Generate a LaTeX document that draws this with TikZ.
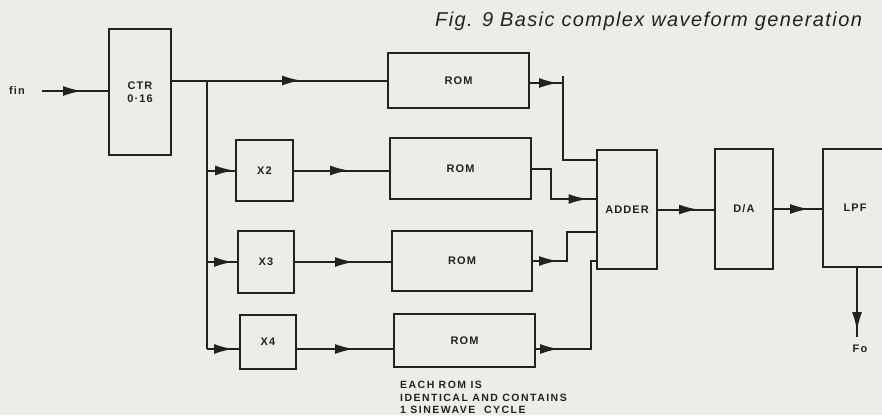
\documentclass[tikz,border=0pt]{standalone}
\usepackage{fontspec}
\setmainfont{Liberation Sans}
\newfontfamily\lblfont[LetterSpace=10]{Liberation Sans}
\newfontfamily\notefont[LetterSpace=14]{Liberation Sans}
\newfontfamily\titlefont[LetterSpace=7]{Liberation Sans}
\usetikzlibrary{arrows.meta,decorations.markings}
\definecolor{paper}{RGB}{236,236,232}
\definecolor{ink}{RGB}{34,34,34}
\begin{document}
\begin{tikzpicture}[x=1pt,y=-1pt,
  box/.style={draw=ink, line width=2pt, inner sep=0pt, text=ink, align=center,
    font=\lblfont\bfseries\fontsize{11}{13.5}\selectfont},
  wire/.style={draw=ink, line width=2pt},
  tipat/.style={postaction={decorate,decoration={markings,
    mark=at position #1 with {\arrow{Latex[length=19pt,width=10pt]}}}}},
  lbl/.style={text=ink, inner sep=0pt, font=\lblfont\bfseries\fontsize{11}{13}\selectfont}
]
\useasboundingbox (0,0) rectangle (882,415);
\fill[paper] (0,0) rectangle (882,415);
\clip (0,0) rectangle (882,415);

% title
\node[anchor=base west, inner sep=0pt, text=ink,
  font=\titlefont\itshape\fontsize{20}{22}\selectfont] (title) at (435,26)
  {Fig. 9 Basic complex waveform generation};

% boxes
\node[box, minimum width=62pt, minimum height=126pt] (ctr) at (140,92) {CTR\\0·16};
\node[box, minimum width=141pt, minimum height=55pt] (rom1) at (458.5,80.5) {ROM};
\node[box, minimum width=57pt, minimum height=61pt] (x2) at (264.5,170.5) {X2};
\node[box, minimum width=141pt, minimum height=61pt] (rom2) at (460.5,168.5) {ROM};
\node[box, minimum width=56pt, minimum height=62pt] (x3) at (266,262) {X3};
\node[box, minimum width=140pt, minimum height=60pt] (rom3) at (462,261) {ROM};
\node[box, minimum width=56pt, minimum height=54pt] (x4) at (268,342) {X4};
\node[box, minimum width=141pt, minimum height=53pt] (rom4) at (464.5,340.5) {ROM};
\node[box, minimum width=60pt, minimum height=119pt] (adder) at (627,209.5) {ADDER};
\node[box, minimum width=58pt, minimum height=120pt] (da) at (744,209) {D/A};
\node[box, minimum width=64pt, minimum height=118pt] (lpf) at (855,208) {LPF};

% texts
\node[lbl] (fintext) at (17,91) {fin};
\node[lbl] (fotext) at (860,349) {Fo};
\node[anchor=north west, inner sep=0pt, text=ink, align=left,
  font=\notefont\bfseries\fontsize{10.5}{12.5}\selectfont] (note) at (400,381)
  {EACH ROM IS\\IDENTICAL AND CONTAINS\\1 SINEWAVE\ \ CYCLE};

% coordinates
\coordinate (fin) at (42,91);
\coordinate (br) at (207,0);
\coordinate (r4) at (0,349);
\coordinate (j1a) at (563,83);
\coordinate (j1t) at (563,76);
\coordinate (j1b) at (563,160);
\coordinate (j2) at (551,199);
\coordinate (j3) at (567,232);
\coordinate (j4) at (591,261);
\coordinate (fo) at (857,337);

% connectors
\draw[wire, tipat=40pt] (fin) -- (fin -| ctr.west);
\draw[wire, tipat=129pt] (ctr.east |- rom1.west) -- (rom1.west);
\draw[wire] (br |- rom1.west) -- (br |- r4);
\draw[wire, tipat=27pt] (br |- x2.west) -- (x2.west);
\draw[wire, tipat=26pt] (br |- x3.west) -- (x3.west);
\draw[wire, tipat=26pt] (br |- r4) -- (x4.west |- r4);
\draw[wire, tipat=55pt] (x2.east) -- (x2.east -| rom2.west);
\draw[wire, tipat=59pt] (x3.east) -- (x3.east -| rom3.west);
\draw[wire, tipat=57pt] (x4.east |- r4) -- (rom4.west |- r4);
\draw[wire, tipat=28pt] (rom1.east |- j1a) -- (j1a);
\draw[wire] (j1t) -- (j1b) -- (j1b -| adder.west);
\draw[wire, tipat=86pt] (rom2.east) -- (rom2.east -| j2) -- (j2) -- (j2 -| adder.west);
\draw[wire, tipat=25pt] (rom3.east) -- (rom3.east -| j3) -- (j3) -- (j3 -| adder.west);
\draw[wire, tipat=23pt] (rom4.east |- r4) -- (j4 |- r4) -- (j4) -- (j4 -| adder.west);
\draw[wire, tipat=40pt] (adder.east) -- (adder.east -| da.west);
\draw[wire, tipat=35pt] (da.east) -- (da.east -| lpf.west);
\draw[wire, tipat=63pt] (lpf.south -| fo) -- (fo);
\end{tikzpicture}
\end{document}
